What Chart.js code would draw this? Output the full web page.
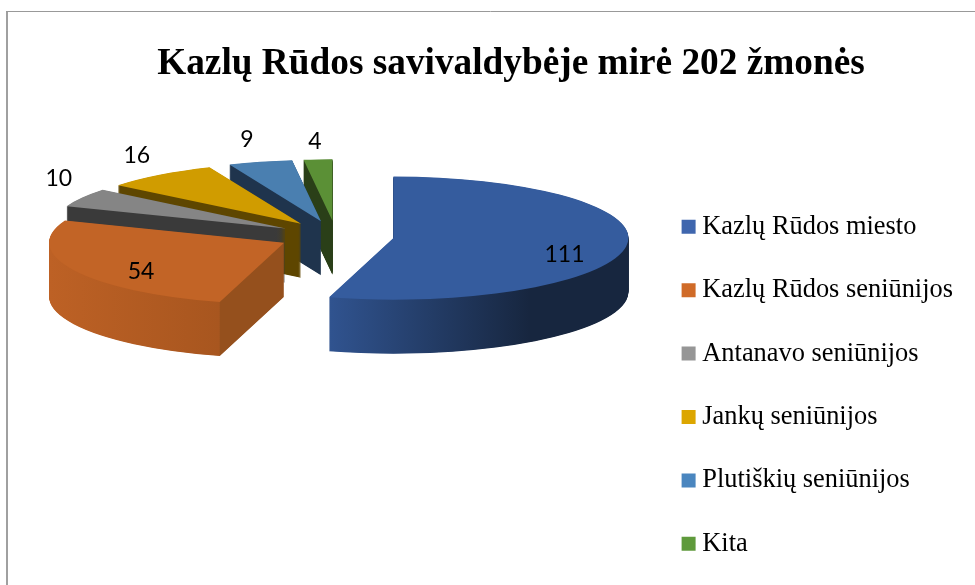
<!DOCTYPE html>
<html>
<head>
<meta charset="utf-8">
<style>html,body{margin:0;padding:0;background:#fff}canvas{display:block}</style>
<script src="https://cdn.jsdelivr.net/npm/chart.js@4/dist/chart.umd.min.js"></script>
</head>
<body>
<canvas id="c" width="975" height="585"></canvas>
<script>
const titleText = "Kazlų Rūdos savivaldybėje mirė 202 žmonės";
const categories = ["Kazlų Rūdos miesto","Kazlų Rūdos seniūnijos","Antanavo seniūnijos","Jankų seniūnijos","Plutiškių seniūnijos","Kita"];
const values = [111,54,10,16,9,4];
const faceColors = ["#355c9e","#c26426","#858585","#d09c00","#4a7fb0","#5b9036"];
const legendColors = ["#3f66ae","#d06b28","#969696","#dca600","#4a86bf","#5f9a3c"];
const wallStops = [
  [[0.366,"#30538f"],[0.79,"#17263f"],[1,"#17263f"]],
  [[0,"#bd6125"],[0.362,"#a8561f"],[0.364,"#95501d"],[1,"#95501d"]],
  [[0,"#3a3a3a"],[1,"#3a3a3a"]],
  [[0,"#5e4600"],[1,"#5e4600"]],
  [[0,"#1f344d"],[1,"#1f344d"]],
  [[0,"#2a3f18"],[1,"#2a3f18"]]
];
const labelRadial = [0.735,0.68,1.115,1.16,1.216,1.216];
const labelLift = [10,10,-15,-11,-9,-5];
const drawOrder = [5,4,3,2,1,0];
const PIE = {cx:336,cy:236,radius:235,squash:0.262,explode:58,depth:54};
const LEGEND_SHIFT = 9;

const pie3d = {
  id:"pie3d",
  afterLayout(chart){
    chart.legend.top += LEGEND_SHIFT;
    chart.legend.bottom += LEGEND_SHIFT;
  },
  beforeDraw(chart){
    const ctx = chart.ctx;
    ctx.save();
    ctx.strokeStyle="#a0a0a0";
    ctx.lineWidth=2;
    ctx.beginPath();ctx.moveTo(7,585);ctx.lineTo(7,11.5);ctx.stroke();
    ctx.lineWidth=1;ctx.strokeStyle="#999999";
    ctx.beginPath();ctx.moveTo(6,11.5);ctx.lineTo(975,11.5);ctx.stroke();
    ctx.restore();
  },
  beforeDatasetDraw(){ return false; },
  afterDatasetsDraw(chart){
    const ctx = chart.ctx;
    const arcs = chart.getDatasetMeta(0).data;
    const plain = c => ({backgroundColor:c,borderColor:"transparent",borderWidth:0,borderAlign:"center",
      offset:0,spacing:0,circular:true,borderRadius:0,borderJoinStyle:"round",borderDash:[],borderDashOffset:0});
    drawOrder.forEach(i=>{
      const arc = arcs[i];
      const mid = (arc.startAngle+arc.endAngle)/2;
      const R = arc.outerRadius;
      const place = dy=>{
        ctx.setTransform(1,0,0,1,0,0);
        ctx.translate(PIE.cx,PIE.cy+dy);
        ctx.scale(1,PIE.squash);
        ctx.translate(Math.cos(mid)*PIE.explode-arc.x,Math.sin(mid)*PIE.explode-arc.y);
      };
      const grad = ctx.createLinearGradient(arc.x-R,0,arc.x+R,0);
      wallStops[i].forEach(s=>grad.addColorStop(s[0],s[1]));
      const wall = Object.create(arc); wall.options = plain(grad);
      const top = Object.create(arc); top.options = plain(faceColors[i]);
      ctx.save();
      for(let d=PIE.depth;d>0;d-=0.5){ place(d); wall.draw(ctx); }
      place(0); top.draw(ctx);
      ctx.restore();
    });
    ctx.save();
    ctx.setTransform(1,0,0,1,0,0);
    ctx.font='23px Lato';
    ctx.fillStyle="#000";ctx.textAlign="center";ctx.textBaseline="middle";
    arcs.forEach((arc,i)=>{
      const mid=(arc.startAngle+arc.endAngle)/2;
      const r=PIE.explode+arc.outerRadius*labelRadial[i];
      const x=PIE.cx+Math.cos(mid)*r;
      const y=PIE.cy+Math.sin(mid)*r*PIE.squash+labelLift[i];
      ctx.fillText(String(values[i]),x,y);
    });
    ctx.restore();
  }
};

new Chart(document.getElementById("c"),{
  type:"pie",
  data:{labels:categories,datasets:[{data:values,backgroundColor:faceColors,borderWidth:0}]},
  plugins:[pie3d],
  options:{
    responsive:false,animation:false,
    radius:PIE.radius,
    layout:{padding:{left:59,right:12,top:0,bottom:0}},
    plugins:{
      tooltip:{enabled:false},
      title:{display:true,text:titleText,color:"#000",
        font:{family:"'Liberation Serif'",size:37.3,weight:"bold"},
        padding:{top:42,bottom:63}},
      legend:{position:"right",align:"end",fullSize:false,
        labels:{
          color:"#000",font:{family:"'Liberation Serif'",size:26.4},
          usePointStyle:true,pointStyle:"rect",boxWidth:1,boxHeight:14,padding:37,
          generateLabels(chart){
            return categories.map((t,i)=>({text:t,fillStyle:legendColors[i],strokeStyle:legendColors[i],lineWidth:0,pointStyle:"rect",index:i,hidden:false}));
          }
        }
      }
    }
  }
});
</script>
</body>
</html>
